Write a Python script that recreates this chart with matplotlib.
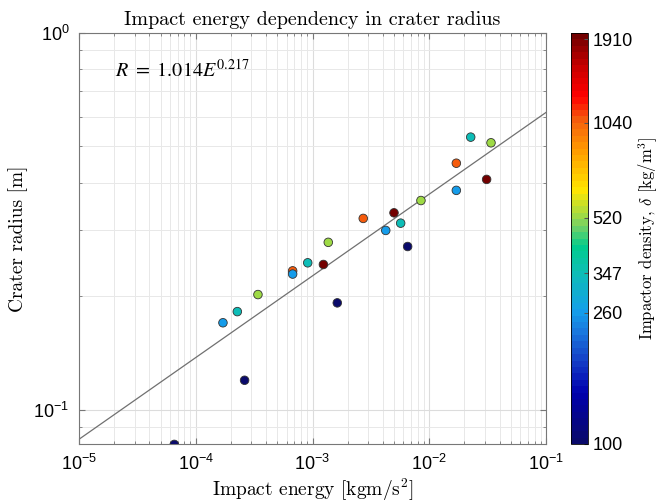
import numpy as np
import matplotlib
matplotlib.use("Agg")
import matplotlib.pyplot as plt
from matplotlib.colors import LogNorm, LinearSegmentedColormap
from matplotlib.ticker import LogLocator, NullFormatter, FixedLocator, FixedFormatter

plt.rcParams['mathtext.fontset'] = 'custom'
plt.rcParams['mathtext.rm'] = 'Liberation Sans'
plt.rcParams['mathtext.it'] = 'Liberation Sans:italic'
plt.rcParams['font.family'] = 'Liberation Sans'

# impact energy [kgm/s^2], crater radius [m], impactor density [kg/m^3]
energy = [6.55e-5, 1.71e-4, 2.27e-4, 3.41e-4, 2.62e-4, 6.76e-4, 6.76e-4, 9.1e-4,
          1.24e-3, 1.365e-3, 1.63e-3, 2.72e-3, 4.24e-3, 4.99e-3, 5.69e-3, 6.53e-3,
          8.49e-3, 2.265e-2, 3.38e-2, 1.706e-2, 3.1e-2, 1.706e-2]
radius = [0.0808, 0.170, 0.182, 0.202, 0.1196, 0.2335, 0.229, 0.2453,
          0.2428, 0.278, 0.192, 0.3218, 0.299, 0.333, 0.3126, 0.271,
          0.359, 0.529, 0.511, 0.451, 0.4085, 0.382]
density = [100, 260, 347, 520, 100, 1040, 260, 347,
           1910, 520, 100, 1040, 260, 1910, 347, 100,
           520, 347, 520, 1040, 1910, 260]

cbar_ticks = [100, 260, 347, 520, 1040, 1910]

# power-law fit R = a * E^b
fit_a = 1.014
fit_b = 0.217

xlim = (1e-5, 1e-1)
ylim = (0.081, 1.0)

# jet-like map, a bit softer through the cyan/green part
cmap_nodes = [
    (0.00, (0.04, 0.04, 0.42)),
    (0.12, (0.00, 0.00, 0.68)),
    (0.20, (0.08, 0.25, 0.78)),
    (0.27, (0.10, 0.47, 0.87)),
    (0.32, (0.08, 0.62, 0.92)),
    (0.42, (0.05, 0.75, 0.70)),
    (0.48, (0.00, 0.80, 0.55)),
    (0.53, (0.45, 0.82, 0.40)),
    (0.56, (0.65, 0.86, 0.25)),
    (0.62, (1.00, 0.90, 0.00)),
    (0.72, (1.00, 0.60, 0.00)),
    (0.79, (0.96, 0.38, 0.05)),
    (0.85, (1.00, 0.00, 0.00)),
    (0.92, (0.80, 0.00, 0.00)),
    (1.00, (0.45, 0.00, 0.00)),
]
cmap = LinearSegmentedColormap.from_list('softjet', cmap_nodes, N=64)
norm = LogNorm(vmin=100, vmax=2000)

W, H = 662, 503
fig = plt.figure(figsize=(W / 100, H / 100), dpi=100)
ax = fig.add_axes([79 / W, (H - 444) / H, (546 - 79) / W, (444 - 33) / H])
cax = fig.add_axes([571 / W, (H - 444) / H, 17 / W, (444 - 33) / H])

ax.set_xscale('log')
ax.set_yscale('log')
ax.set_xlim(*xlim)
ax.set_ylim(*ylim)

e_fit = np.logspace(np.log10(xlim[0]), np.log10(xlim[1]), 50)
ax.plot(e_fit, fit_a * e_fit ** fit_b, color='#707070', lw=0.9, zorder=2)

sc = ax.scatter(energy, radius, c=density, cmap=cmap, norm=norm, s=38,
                edgecolors='#333333', linewidths=0.6, zorder=3)

ax.xaxis.set_major_locator(LogLocator(base=10, numticks=10))
ax.xaxis.set_minor_locator(LogLocator(base=10, subs=np.arange(2, 10), numticks=20))
ax.yaxis.set_minor_locator(LogLocator(base=10, subs=np.arange(2, 10), numticks=20))
ax.xaxis.set_minor_formatter(NullFormatter())
ax.yaxis.set_minor_formatter(NullFormatter())

ax.grid(True, which='major', color='#dcdcdc', lw=0.8, zorder=0)
ax.grid(True, which='minor', color='#e8e8e8', lw=0.7, zorder=0)
ax.set_axisbelow(True)

for s in ax.spines.values():
    s.set_color('#777777')
    s.set_linewidth(0.8)
ax.tick_params(which='both', direction='in', top=True, right=True,
               colors='#777777', labelcolor='black', labelsize=13)
ax.tick_params(which='major', length=4, pad=7)
ax.tick_params(which='minor', length=2.5)

serif = dict(family='cmr10', math_fontfamily='cm')
ax.set_title('Impact energy dependency in crater radius', fontsize=14.5, pad=6, **serif)
ax.set_xlabel('Impact energy [kgm/s$^2$]', fontsize=14, labelpad=2, **serif)
ax.set_ylabel('Crater radius [m]', fontsize=14, labelpad=4, **serif)

ax.text(0.077, 0.895, r'$R\ =\ 1.014E^{0.217}$', transform=ax.transAxes,
        fontsize=14.5, math_fontfamily='stix', va='baseline', ha='left')

cb = fig.colorbar(sc, cax=cax)
cb.ax.yaxis.set_major_locator(FixedLocator(cbar_ticks))
cb.ax.yaxis.set_major_formatter(FixedFormatter([str(t) for t in cbar_ticks]))
cb.ax.yaxis.set_minor_locator(FixedLocator([]))
cb.ax.tick_params(direction='in', length=3, labelsize=13, pad=3, colors='#555555',
                  labelcolor='black')
cb.outline.set_linewidth(0.6)
cb.set_label(r'Impactor density, $\delta$ [kg/m$^3$]', fontsize=12, labelpad=3, **serif)

fig.savefig('out.png', dpi=100)
